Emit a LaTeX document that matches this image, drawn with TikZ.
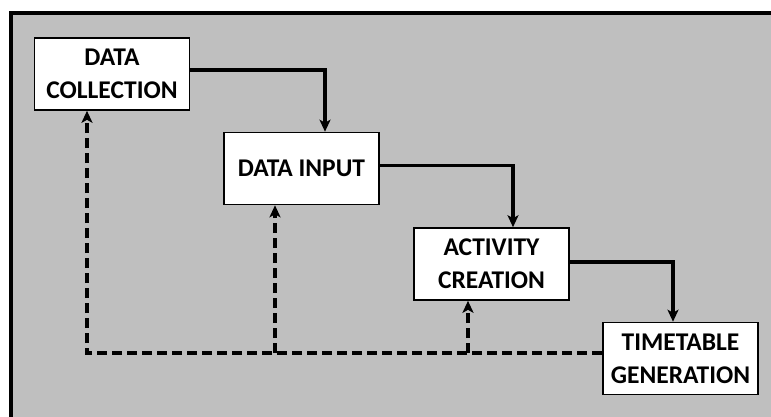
\documentclass[tikz,border=0pt]{standalone}
\usepackage{fontspec}
\setmainfont{Carlito}
\usetikzlibrary{arrows.meta}
\definecolor{panelgrey}{RGB}{191,191,191}
\begin{document}
\begin{tikzpicture}[x=1pt,y=-1pt,
  stage/.style={draw, line width=1.6pt, fill=white, minimum width=155pt,
    minimum height=72pt, inner sep=0pt, align=center,
    font=\fontsize{25.5}{33}\selectfont\bfseries},
  flow/.style={line width=3.6pt, -{Stealth[length=12pt,width=11pt,inset=3pt]}},
  back/.style={flow, dash pattern=on 10pt off 5pt},
]
% page and framed panel
\useasboundingbox (0,0) rectangle (771,416);
\fill[white] (0,0) rectangle (771,416);
\begin{scope}
  \clip (0,0) rectangle (771,416);
  \draw[line width=4pt, fill=panelgrey] (11,13) rectangle (800,440);
\end{scope}

% stages
\node[stage] (dc) at (112,74)    {DATA\\COLLECTION};
\node[stage] (di) at (301.5,168.5) {DATA INPUT};
\node[stage] (ac) at (491.5,264) {ACTIVITY\\CREATION};
\node[stage] (tg) at (680.5,358.5) {TIMETABLE\\GENERATION};

% forward flow
\draw[flow] ([yshift=4pt]dc.east) -| ([xshift=23.5pt]di.north);
\draw[flow] ([yshift=3pt]di.east) -| ([xshift=21.5pt]ac.north);
\draw[flow] ([yshift=2pt]ac.east) -| ([xshift=-7.5pt]tg.north);

% feedback paths
\coordinate (fb) at ([yshift=5.5pt]tg.west);
\draw[back] (fb) -| ([xshift=-25pt]dc.south);
\draw[back] ([xshift=-26.5pt]di.south |- fb) -- ([xshift=-26.5pt]di.south);
\draw[back] ([xshift=-23.5pt]ac.south |- fb) -- ([xshift=-23.5pt]ac.south);
\end{tikzpicture}
\end{document}
